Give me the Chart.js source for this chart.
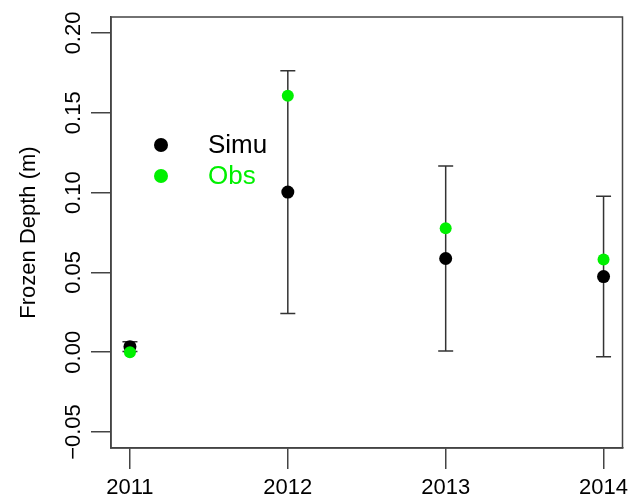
<!DOCTYPE html>
<html>
<head>
<meta charset="utf-8">
<script src="https://cdn.jsdelivr.net/npm/chart.js@4"></script>
<style>
  html, body { margin: 0; padding: 0; background: #fff; }
  #wrap { width: 629px; height: 501px; }
</style>
</head>
<body>
<div id="wrap"><canvas id="c" width="629" height="501"></canvas></div>
<script>
// Yearly frozen depth: simulated mean with spread, and observed value
const years = [2011, 2012, 2013, 2014];
const simu = [0.0035, 0.1003, 0.0587, 0.0474];
const simuErr = [0.0030, 0.0760, 0.0580, 0.0503];
const obs = [0.0000, 0.1607, 0.0776, 0.0581];
const yTicks = [-0.05, 0.00, 0.05, 0.10, 0.15, 0.20];
const yTickLabels = ['\u22120.05', '0.00', '0.05', '0.10', '0.15', '0.20'];
const seriesNames = ['Simu', 'Obs'];

const FONT = '"Liberation Sans", Arial, sans-serif';
const GREEN = '#00f000';
const AXIS = '#444';

// Vertical error bars with caps around each simulated value
const errorBars = {
  id: 'errorBars',
  beforeDatasetsDraw(chart) {
    const xs = chart.scales.x, ys = chart.scales.y, ctx = chart.ctx;
    ctx.save();
    ctx.strokeStyle = '#333';
    ctx.lineWidth = 1.5;
    years.forEach((yr, i) => {
      const px = xs.getPixelForValue(yr);
      const top = ys.getPixelForValue(simu[i] + simuErr[i]);
      const bot = ys.getPixelForValue(simu[i] - simuErr[i]);
      ctx.beginPath();
      ctx.moveTo(px, top); ctx.lineTo(px, bot);
      ctx.moveTo(px - 7.5, top); ctx.lineTo(px + 7.5, top);
      ctx.moveTo(px - 7.5, bot); ctx.lineTo(px + 7.5, bot);
      ctx.stroke();
    });
    ctx.restore();
  }
};

// Frame around the plotting region, rotated y tick labels and the legend
const frame = {
  id: 'frame',
  afterDraw(chart) {
    const a = chart.chartArea, ctx = chart.ctx, ys = chart.scales.y;
    ctx.save();
    ctx.strokeStyle = AXIS;
    ctx.lineWidth = 1.5;
    ctx.strokeRect(a.left, a.top, a.right - a.left, a.bottom - a.top);

    ctx.fillStyle = '#000';
    ctx.font = '22px ' + FONT;
    ctx.textAlign = 'center';
    ctx.textBaseline = 'middle';
    yTicks.forEach((v, i) => {
      const py = ys.getPixelForValue(v);
      ctx.save();
      ctx.translate(74, py);
      ctx.rotate(-Math.PI / 2);
      ctx.fillText(yTickLabels[i], 0, 0);
      ctx.restore();
    });

    const colors = ['#000', GREEN];
    ctx.textAlign = 'left';
    ctx.font = '26px ' + FONT;
    seriesNames.forEach((name, i) => {
      const cy = 145 + i * 31;
      ctx.fillStyle = colors[i];
      ctx.beginPath();
      ctx.arc(161, cy, 7, 0, Math.PI * 2);
      ctx.fill();
      ctx.fillText(name, 208, cy + 1);
    });
    ctx.restore();
  }
};

new Chart(document.getElementById('c'), {
  type: 'scatter',
  data: {
    datasets: [
      {
        label: seriesNames[1],
        data: years.map((x, i) => ({ x, y: obs[i] })),
        backgroundColor: GREEN,
        borderColor: GREEN,
        pointRadius: 6,
        borderWidth: 0
      },
      {
        label: seriesNames[0],
        data: years.map((x, i) => ({ x, y: simu[i] })),
        backgroundColor: '#000',
        borderColor: '#000',
        pointRadius: 6.5,
        borderWidth: 0
      }
    ]
  },
  options: {
    responsive: false,
    animation: false,
    devicePixelRatio: 1,
    layout: { padding: { top: 17, right: 6, left: 0, bottom: 0 } },
    plugins: { legend: { display: false }, tooltip: { enabled: false } },
    scales: {
      x: {
        type: 'linear',
        min: 2010.88,
        max: 2014.12,
        afterBuildTicks(scale) { scale.ticks = years.map(v => ({ value: v })); },
        afterFit(scale) {
          scale.height = 53;
          // let the outer tick labels overhang instead of shrinking the plot
          scale.paddingLeft = 0;
          scale.paddingRight = 0;
        },
        grid: { drawOnChartArea: false, drawTicks: true, tickLength: 21, color: AXIS, lineWidth: 1.5 },
        border: { display: true, color: AXIS, width: 1.5 },
        ticks: {
          color: '#000',
          font: { family: FONT, size: 22 },
          padding: 6,
          maxRotation: 0,
          callback: v => String(v)
        }
      },
      y: {
        min: -0.06,
        max: 0.21,
        afterBuildTicks(scale) { scale.ticks = yTicks.map(v => ({ value: v })); },
        afterFit(scale) { scale.width = 111; },
        grid: { drawOnChartArea: false, drawTicks: true, tickLength: 20, color: AXIS, lineWidth: 1.5 },
        border: { display: true, color: AXIS, width: 1.5 },
        ticks: { display: false },
        title: {
          display: true,
          text: 'Frozen Depth (m)',
          color: '#000',
          font: { family: FONT, size: 22 },
          padding: { top: 16, bottom: 0 }
        }
      }
    }
  },
  plugins: [errorBars, frame]
});
</script>
</body>
</html>
